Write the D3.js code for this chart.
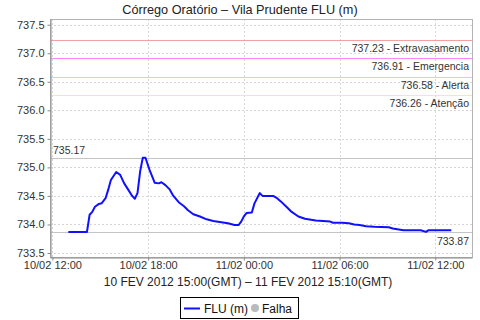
<!DOCTYPE html>
<html>
<head>
<meta charset="utf-8">
<script src="https://cdn.jsdelivr.net/npm/d3@7"></script>
<style>
  body { margin: 0; background: #fff; }
  svg { display: block; font-family: "Liberation Sans", Arial, sans-serif; }
</style>
</head>
<body>
<svg id="chart" width="480" height="320"></svg>
<script>
// readings (local time) and level in metres
let times = [
  "2012-02-10 13:00", "2012-02-10 14:10", "2012-02-10 14:20", "2012-02-10 14:30",
  "2012-02-10 14:40", "2012-02-10 14:55", "2012-02-10 15:05", "2012-02-10 15:20",
  "2012-02-10 15:30", "2012-02-10 15:40", "2012-02-10 16:00", "2012-02-10 16:15",
  "2012-02-10 16:30", "2012-02-10 16:45", "2012-02-10 17:00", "2012-02-10 17:10",
  "2012-02-10 17:20", "2012-02-10 17:30", "2012-02-10 17:40", "2012-02-10 17:50",
  "2012-02-10 18:05", "2012-02-10 18:25", "2012-02-10 18:40", "2012-02-10 18:50",
  "2012-02-10 19:05", "2012-02-10 19:20", "2012-02-10 19:35", "2012-02-10 19:55",
  "2012-02-10 20:15", "2012-02-10 20:30", "2012-02-10 20:50", "2012-02-10 21:15",
  "2012-02-10 21:40", "2012-02-10 22:05", "2012-02-10 22:35", "2012-02-10 23:00",
  "2012-02-10 23:25", "2012-02-10 23:40", "2012-02-10 23:50", "2012-02-11 00:00",
  "2012-02-11 00:10", "2012-02-11 00:30", "2012-02-11 00:40", "2012-02-11 01:00",
  "2012-02-11 01:10", "2012-02-11 01:50", "2012-02-11 02:05", "2012-02-11 02:20",
  "2012-02-11 02:40", "2012-02-11 03:00", "2012-02-11 03:25", "2012-02-11 03:50",
  "2012-02-11 04:30", "2012-02-11 05:25", "2012-02-11 05:35", "2012-02-11 06:10",
  "2012-02-11 06:35", "2012-02-11 06:55", "2012-02-11 07:15", "2012-02-11 07:40",
  "2012-02-11 08:10", "2012-02-11 09:05", "2012-02-11 09:20", "2012-02-11 10:00",
  "2012-02-11 11:05", "2012-02-11 11:25", "2012-02-11 11:35", "2012-02-11 13:00"
];
let levels = [
  733.87, 733.87, 734.17, 734.22, 734.31, 734.36, 734.37, 734.46,
  734.61, 734.78, 734.92, 734.87, 734.72, 734.61, 734.50, 734.45,
  734.55, 734.93, 735.17, 735.17, 734.96, 734.73, 734.72, 734.74,
  734.69, 734.62, 734.50, 734.39, 734.32, 734.25, 734.18, 734.14,
  734.09, 734.06, 734.04, 734.02, 733.99, 733.99, 734.05, 734.14,
  734.20, 734.21, 734.37, 734.55, 734.50, 734.50, 734.46, 734.40,
  734.31, 734.22, 734.14, 734.10, 734.07, 734.05, 734.03, 734.03,
  734.02, 734.00, 733.99, 733.97, 733.96, 733.95, 733.93, 733.90,
  733.90, 733.87, 733.90, 733.90
];
let thresholdValues = [737.23, 736.91, 736.58, 736.26];
let thresholdNames = ["Extravasamento", "Emergencia", "Alerta", "Atenção"];
let thresholdColors = ["#f2a0a0", "#ff88ff", "#f9cc96", "#f9e7a6"];
let yTicks = [733.5, 734.0, 734.5, 735.0, 735.5, 736.0, 736.5, 737.0, 737.5];
let xStart = "2012-02-10 11:51";
let xEnd = "2012-02-11 14:18";
let yMin = 733.43, yMax = 737.6;

let title = "Córrego Oratório – Vila Prudente FLU (m)";
let subtitle = "10 FEV 2012 15:00(GMT) – 11 FEV 2012 15:10(GMT)";

let parse = d3.timeParse("%Y-%m-%d %H:%M");
let data = times.map((t, i) => ({date: parse(t), value: levels[i]}));

let svg = d3.select("#chart");
let pLeft = 50, pRight = 472, pTop = 19, pBottom = 257;

let x = d3.scaleTime().domain([parse(xStart), parse(xEnd)]).range([pLeft, pRight]);
let y = d3.scaleLinear().domain([yMin, yMax]).range([pBottom, pTop]);

let xTicks = d3.timeHour.every(6).range(parse(xStart), parse(xEnd));

// grid
let grid = svg.append("g").attr("stroke", "#d6d6d6").attr("stroke-dasharray", "2,2");
grid.selectAll("line.h").data(yTicks).enter().append("line")
  .attr("x1", pLeft).attr("x2", pRight)
  .attr("y1", d => Math.round(y(d)) + 0.5).attr("y2", d => Math.round(y(d)) + 0.5);
grid.selectAll("line.v").data(xTicks).enter().append("line")
  .attr("y1", pTop).attr("y2", pBottom)
  .attr("x1", d => Math.round(x(d)) + 0.5).attr("x2", d => Math.round(x(d)) + 0.5);

// frame
svg.append("rect")
  .attr("x", pLeft + 0.5).attr("y", pTop + 0.5)
  .attr("width", pRight - pLeft).attr("height", pBottom - pTop)
  .attr("fill", "none").attr("stroke", "#b4b4b4");

// threshold lines
let thr = svg.append("g");
thresholdValues.forEach((v, i) => {
  let yy = Math.round(y(v)) + 0.5;
  thr.append("line").attr("x1", pLeft + 1).attr("x2", pRight)
    .attr("y1", yy).attr("y2", yy).attr("stroke", thresholdColors[i]);
  thr.append("text").attr("x", pRight - 3).attr("y", yy + 11)
    .attr("text-anchor", "end").attr("font-size", 10.5).attr("fill", "#333")
    .text(d3.format(".2f")(v) + " - " + thresholdNames[i]);
});

// max / min markers
let maxV = d3.max(levels), minV = d3.min(levels);
[maxV, minV].forEach(v => {
  let yy = Math.round(y(v)) + 0.5;
  svg.append("line").attr("x1", pLeft + 1).attr("x2", pRight)
    .attr("y1", yy).attr("y2", yy).attr("stroke", "#c4c4c4");
});
svg.append("text").attr("x", pLeft + 3).attr("y", Math.round(y(maxV)) - 4)
  .attr("font-size", 10.5).attr("fill", "#333")
  .text(d3.format(".2f")(maxV));
svg.append("text").attr("x", pRight - 3).attr("y", Math.round(y(minV)) + 13)
  .attr("text-anchor", "end").attr("font-size", 10.5).attr("fill", "#333")
  .text(d3.format(".2f")(minV));

// axes
let yAxis = svg.append("g").attr("transform", `translate(${pLeft + 0.5},0)`)
  .call(d3.axisLeft(y).tickValues(yTicks).tickFormat(d3.format(".1f")).tickSizeInner(3).tickSizeOuter(0).tickPadding(3));
let xAxis = svg.append("g").attr("transform", `translate(0,${pBottom + 0.5})`)
  .call(d3.axisBottom(x).tickValues(xTicks).tickFormat(d3.timeFormat("%d/%m %H:%M")).tickSizeInner(3).tickSizeOuter(0).tickPadding(1));
[yAxis, xAxis].forEach(a => {
  a.select(".domain").attr("stroke", "#888");
  a.selectAll(".tick line").attr("stroke", "#888");
  a.selectAll("text").attr("font-family", "Liberation Sans").attr("fill", "#333").attr("font-size", 11);
});

// series
let line = d3.line().x(d => x(d.date)).y(d => y(d.value));
svg.append("path").datum(data)
  .attr("d", line).attr("fill", "none")
  .attr("stroke", "#1010ff").attr("stroke-width", 2).attr("stroke-linejoin", "round");

// titles
svg.append("text").attr("x", 240).attr("y", 14).attr("text-anchor", "middle")
  .attr("font-size", 12.7).attr("fill", "#222").text(title);
svg.append("text").attr("x", 248).attr("y", 286).attr("text-anchor", "middle")
  .attr("font-size", 12).attr("fill", "#222").text(subtitle);

// legend
let lg = svg.append("g");
lg.append("rect").attr("x", 180.5).attr("y", 297.5).attr("width", 118).attr("height", 21)
  .attr("fill", "#fff").attr("stroke", "#000");
lg.append("line").attr("x1", 184).attr("x2", 200).attr("y1", 308.5).attr("y2", 308.5)
  .attr("stroke", "#1010ff").attr("stroke-width", 2);
lg.append("text").attr("x", 204).attr("y", 313).attr("font-size", 12).attr("fill", "#111").text("FLU (m)");
lg.append("circle").attr("cx", 255).attr("cy", 308).attr("r", 4).attr("fill", "#bbb");
lg.append("text").attr("x", 262).attr("y", 313).attr("font-size", 12).attr("fill", "#111").text("Falha");
</script>
</body>
</html>
